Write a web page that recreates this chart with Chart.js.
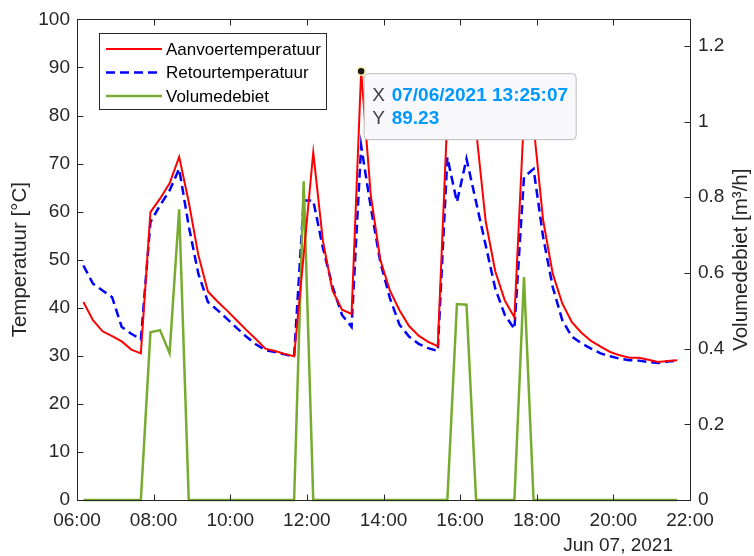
<!DOCTYPE html>
<html>
<head>
<meta charset="utf-8">
<script src="https://cdn.jsdelivr.net/npm/chart.js@4.4.1/dist/chart.umd.min.js"></script>
<style>
  html, body { margin: 0; padding: 0; background: #fff; }
  canvas { display: block; }
</style>
</head>
<body>
<canvas id="flowChart" width="754" height="556"></canvas>
<script>
// Colours and fonts (MATLAB look)
const RED = '#ff0000';
const BLUE = '#0000ff';
const GREEN = '#77ac30';
const AXIS_COLOR = '#262626';
const FONT = "'Liberation Sans', Arial, sans-serif";

// Sample times (15 min interval, 07 Jun 2021)
const TIMES = [
    '06:10', '06:25', '06:40', '06:55', '07:10', '07:25', '07:40', '07:55',
    '08:10', '08:25', '08:40', '08:55', '09:10', '09:25', '09:40', '09:55',
    '10:10', '10:25', '10:40', '10:55', '11:10', '11:25', '11:40', '11:55',
    '12:10', '12:25', '12:40', '12:55', '13:10', '13:25', '13:40', '13:55',
    '14:10', '14:25', '14:40', '14:55', '15:10', '15:25', '15:40', '15:55',
    '16:10', '16:25', '16:40', '16:55', '17:10', '17:25', '17:40', '17:55',
    '18:10', '18:25', '18:40', '18:55', '19:10', '19:25', '19:40', '19:55',
    '20:10', '20:25', '20:40', '20:55', '21:10', '21:25', '21:40'
];

// Aanvoertemperatuur [°C]
const AANVOER = [
    41.2, 37.4, 35.1, 34.1, 33.0, 31.3, 30.5, 59.9,
    62.7, 65.9, 71.4, 62.0, 51.0, 43.4, 41.3, 39.4,
    37.4, 35.4, 33.5, 31.5, 31.0, 30.4, 29.9, 51.0,
    72.3, 54.0, 43.6, 39.6, 38.7, 89.23, 63.5, 50.0,
    43.6, 39.5, 36.2, 34.2, 32.9, 32.0, 80.0, 84.0,
    85.0, 77.0, 58.0, 47.6, 41.5, 38.0, 80.0, 78.0,
    58.2, 47.1, 40.9, 37.0, 34.8, 33.1, 31.9, 30.8,
    30.1, 29.6, 29.6, 29.2, 28.7, 28.9, 29.1
];

// Retourtemperatuur [°C]
const RETOUR = [
    48.8, 45.0, 43.6, 42.2, 36.0, 34.6, 33.4, 57.8,
    61.3, 64.4, 68.9, 57.0, 47.1, 41.2, 39.5, 37.7,
    35.8, 34.0, 32.4, 31.2, 30.8, 30.3, 29.9, 62.3,
    62.3, 52.5, 44.5, 38.5, 36.0, 73.7, 61.0, 49.5,
    42.0, 36.5, 34.0, 32.5, 31.6, 31.0, 71.3, 62.0,
    71.0, 62.0, 53.0, 44.0, 38.5, 35.6, 67.2, 68.9,
    54.7, 44.3, 37.4, 34.0, 32.6, 31.5, 30.5, 29.9,
    29.4, 29.1, 29.0, 28.7, 28.5, 28.8, 29.0
];

// Volumedebiet [m³/h]
const DEBIET = [
    0, 0, 0, 0, 0, 0, 0, 0.443,
    0.449, 0.388, 0.768, 0, 0, 0, 0, 0,
    0, 0, 0, 0, 0, 0, 0, 0.842,
    0, 0, 0, 0, 0, 0, 0, 0,
    0, 0, 0, 0, 0, 0, 0, 0.518,
    0.516, 0, 0, 0, 0, 0, 0.589, 0,
    0, 0, 0, 0, 0, 0, 0, 0,
    0, 0, 0, 0, 0, 0, 0
];

const X_TICKS = [6, 8, 10, 12, 14, 16, 18, 20, 22];
const DEBIET_TICKS = [0, 0.2, 0.4, 0.6, 0.8, 1, 1.2];

const TIP_INDEX = 29;
const TIP_X = '07/06/2021 13:25:07';
const TIP_Y = '89.23';

const toHours = t => {
    const [h, m] = t.split(':').map(Number);
    return h + m / 60;
};
const toPoints = values => TIMES.map((t, i) => ({ x: toHours(t), y: values[i] }));

// Box, inward ticks, axis labels, legend and datatip
const matlabOverlay = {
    id: 'matlabOverlay',
    afterDatasetsDraw(chart) {
        const { ctx, chartArea: a, scales } = chart;
        const L = Math.round(a.left) + 0.5, R = Math.round(a.right) + 0.5;
        const T = Math.round(a.top) + 0.5, B = Math.round(a.bottom) + 0.5;
        ctx.save();
        ctx.strokeStyle = AXIS_COLOR;
        ctx.lineWidth = 1;
        ctx.setLineDash([]);
        ctx.strokeRect(L, T, R - L, B - T);

        ctx.beginPath();
        X_TICKS.forEach(v => {
            const px = Math.round(scales.x.getPixelForValue(v)) + 0.5;
            ctx.moveTo(px, B); ctx.lineTo(px, B - 6);
            ctx.moveTo(px, T); ctx.lineTo(px, T + 6);
        });
        scales.y.ticks.forEach(t => {
            const py = Math.round(scales.y.getPixelForValue(t.value)) + 0.5;
            ctx.moveTo(L, py); ctx.lineTo(L + 6, py);
        });
        DEBIET_TICKS.forEach(v => {
            const py = Math.round(scales.y1.getPixelForValue(v)) + 0.5;
            ctx.moveTo(R, py); ctx.lineTo(R - 6, py);
        });
        ctx.stroke();

        // axis titles
        ctx.fillStyle = AXIS_COLOR;
        ctx.font = `20.5px ${FONT}`;
        ctx.textAlign = 'center';
        ctx.textBaseline = 'middle';
        const midY = (a.top + a.bottom) / 2;
        [[20, 'Temperatuur [°C]'], [741, 'Volumedebiet [m³/h]']].forEach(([x, text]) => {
            ctx.save();
            ctx.translate(x, midY);
            ctx.rotate(-Math.PI / 2);
            ctx.fillText(text, 0, 0);
            ctx.restore();
        });
        ctx.font = `19px ${FONT}`;
        ctx.textAlign = 'right';
        ctx.fillText('Jun 07, 2021', 673, 546);

        // legend
        ctx.fillStyle = '#fff';
        ctx.fillRect(99.5, 33.5, 227, 76);
        ctx.strokeRect(99.5, 33.5, 227, 76);
        ctx.font = `17px ${FONT}`;
        ctx.textAlign = 'left';
        const legendRows = [
            [chart.data.datasets[0], 49],
            [chart.data.datasets[2], 72.5],
            [chart.data.datasets[1], 96]
        ];
        legendRows.forEach(([ds, y]) => {
            ctx.save();
            ctx.strokeStyle = ds.borderColor;
            ctx.lineWidth = ds.borderWidth;
            ctx.setLineDash(ds.borderDash || []);
            ctx.beginPath();
            ctx.moveTo(106, y); ctx.lineTo(162, y);
            ctx.stroke();
            ctx.restore();
            ctx.fillStyle = '#000';
            ctx.fillText(ds.label, 166, y + 1);
        });

        // datatip
        const pt = chart.getDatasetMeta(0).data[TIP_INDEX];
        const bx = pt.x + 2.5, by = pt.y + 2, bw = 212, bh = 66;
        ctx.beginPath();
        ctx.roundRect(bx + 0.5, by + 0.5, bw, bh, 4);
        ctx.fillStyle = '#f9f9fd';
        ctx.fill();
        ctx.strokeStyle = '#bdbdbd';
        ctx.stroke();
        ctx.font = `19px ${FONT}`;
        ctx.fillStyle = '#404040';
        ctx.fillText('X', pt.x + 11, pt.y + 25);
        ctx.fillText('Y', pt.x + 11, pt.y + 48);
        ctx.font = `bold 19px ${FONT}`;
        ctx.fillStyle = '#0099ff';
        ctx.fillText(TIP_X, pt.x + 30.5, pt.y + 25);
        ctx.fillText(TIP_Y, pt.x + 30.5, pt.y + 48);

        ctx.beginPath();
        ctx.arc(pt.x, pt.y, 4, 0, Math.PI * 2);
        ctx.fillStyle = '#1a1a1a';
        ctx.fill();
        ctx.strokeStyle = '#fff7b0';
        ctx.lineWidth = 1.5;
        ctx.stroke();
        ctx.restore();
    }
};

const tickFont = { family: FONT, size: 19 };
const pad2 = v => String(v).padStart(2, '0');

const ctx = document.getElementById('flowChart').getContext('2d');
new Chart(ctx, {
    type: 'line',
    data: {
        datasets: [
            {
                label: 'Aanvoertemperatuur',
                data: toPoints(AANVOER),
                borderColor: RED,
                borderWidth: 2,
                yAxisID: 'y',
                order: 0,
                clip: 4
            },
            {
                label: 'Volumedebiet',
                data: toPoints(DEBIET),
                borderColor: GREEN,
                borderWidth: 2.5,
                yAxisID: 'y1',
                order: 1,
                clip: 4
            },
            {
                label: 'Retourtemperatuur',
                data: toPoints(RETOUR),
                borderColor: BLUE,
                borderWidth: 2.5,
                borderDash: [9, 5],
                yAxisID: 'y',
                order: 2,
                clip: 4
            }
        ]
    },
    options: {
        responsive: false,
        animation: false,
        layout: { padding: { top: 18, left: 0, right: 0, bottom: 0 } },
        elements: {
            point: { radius: 0, hoverRadius: 0 },
            line: { tension: 0, fill: false }
        },
        plugins: {
            legend: { display: false },
            tooltip: { enabled: false }
        },
        scales: {
            x: {
                type: 'linear',
                min: 6,
                max: 22,
                afterBuildTicks: s => { s.ticks = X_TICKS.map(v => ({ value: v })); },
                afterFit: s => { s.height = 56; },
                ticks: {
                    callback: v => `${pad2(v)}:00`,
                    font: tickFont,
                    color: AXIS_COLOR,
                    padding: 9,
                    maxRotation: 0,
                    autoSkip: false
                },
                grid: { display: false, drawTicks: false },
                border: { display: false }
            },
            y: {
                position: 'left',
                min: 0,
                max: 100,
                afterFit: s => { s.width = 77; },
                ticks: { stepSize: 10, font: tickFont, color: AXIS_COLOR, padding: 7 },
                grid: { display: false, drawTicks: false },
                border: { display: false }
            },
            y1: {
                position: 'right',
                min: 0,
                max: 1.27,
                afterBuildTicks: s => { s.ticks = DEBIET_TICKS.map(v => ({ value: v })); },
                afterFit: s => { s.width = 64; },
                ticks: {
                    callback: v => String(Math.round(v * 10) / 10),
                    font: tickFont,
                    color: AXIS_COLOR,
                    padding: 8
                },
                grid: { display: false, drawTicks: false },
                border: { display: false }
            }
        }
    },
    plugins: [matlabOverlay]
});
</script>
</body>
</html>
